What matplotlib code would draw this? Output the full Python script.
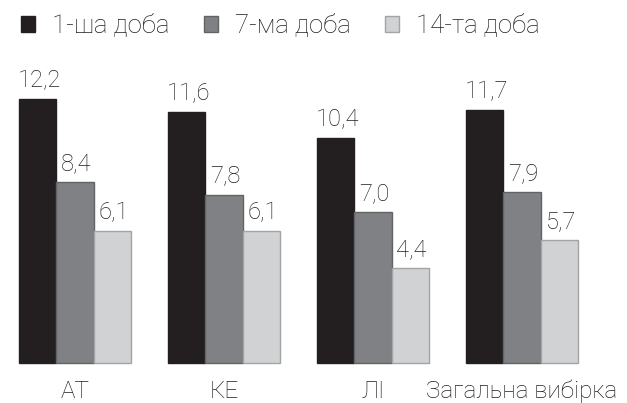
import matplotlib.pyplot as plt
from matplotlib.patches import Patch

plt.rcParams["font.family"] = ["Roboto", "DejaVu Sans"]

categories = ["АТ", "КЕ", "ЛІ", "Загальна вибірка"]
series_names = ["1-ша доба", "7-ма доба", "14-та доба"]
day1 = [12.2, 11.6, 10.4, 11.7]
day7 = [8.4, 7.8, 7.0, 7.9]
day14 = [6.1, 6.1, 4.4, 5.7]

fills = ["#231f20", "#808184", "#d1d2d4"]
edges = ["#231f20", "#626365", "#a3a4a6"]

fig = plt.figure(figsize=(6.27, 4.03), dpi=100)
ax = fig.add_axes([0, 0, 1, 1])

# groups are 4 bar-widths apart, three bars per group
centers = [4 * i + 1 for i in range(len(categories))]

for k, vals in enumerate([day1, day7, day14]):
    xs = [c - 1 + k for c in centers]
    ax.bar(xs, vals, width=1.0, color=fills[k], edgecolor=edges[k],
           linewidth=1.0, zorder=2)
    for x, v in zip(xs, vals):
        ax.text(x + 0.04, v + 0.55, f"{v:.1f}".replace(".", ","),
                ha="center", va="baseline", fontsize=17, weight="light",
                color="#231f20")

for c, name in zip(centers, categories):
    ax.text(c, -1.6, name, ha="center", va="baseline", fontsize=17.5,
            weight="light", color="#231f20")

handles = [Patch(facecolor=fills[k], edgecolor=edges[k], label=series_names[k])
           for k in range(3)]
leg = fig.legend(handles=handles, loc="upper left",
                 bbox_to_anchor=(0.033, 1 - 14 / 403),
                 ncol=3, frameon=False, fontsize=18.5, handlelength=0.55,
                 handleheight=0.55, handletextpad=0.65, columnspacing=1.35,
                 borderaxespad=0.0, borderpad=0.0)
for t in leg.get_texts():
    t.set_weight("light")
    t.set_color("#231f20")

ax.set_xlim(-1.01, 15.82)
ax.set_ylim(-1.835, 16.79)
ax.set_axis_off()

fig.savefig("out.png", dpi=100)
